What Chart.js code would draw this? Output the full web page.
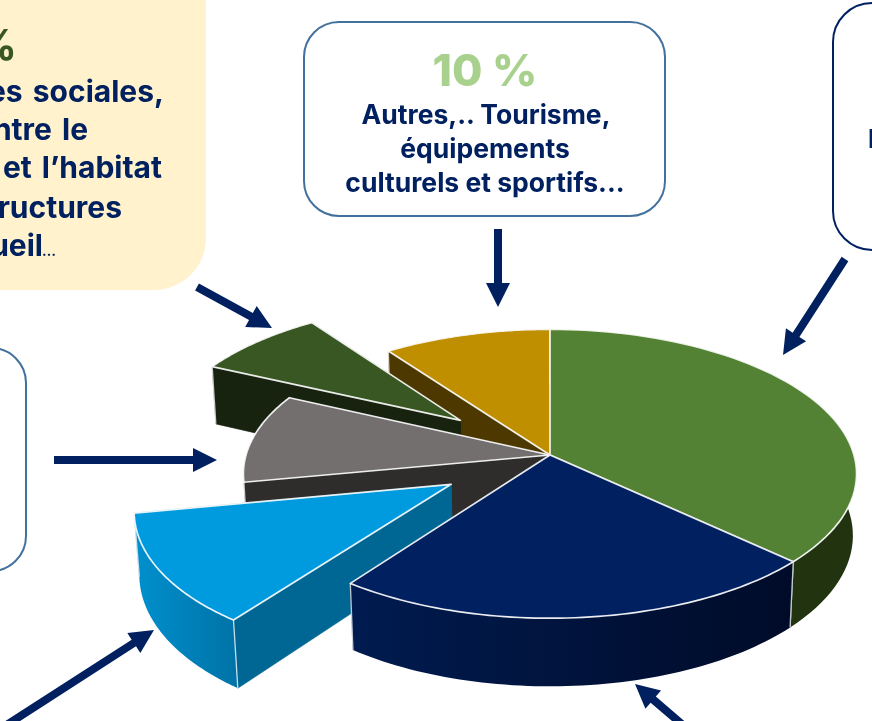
<!DOCTYPE html>
<html lang="fr">
<head>
<meta charset="utf-8">
<title>Répartition</title>
<script src="https://cdn.jsdelivr.net/npm/chart.js@4/dist/chart.umd.min.js"></script>
<style>
html, body { margin: 0; padding: 0; background: #fff; }
#page { position: relative; width: 872px; height: 721px; overflow: hidden; font-family: Inter, sans-serif; font-weight: 700; color: #002060; }
#chart { position: absolute; left: 0; top: 0; }
#arrows { position: absolute; left: 0; top: 0; }
.box { position: absolute; box-sizing: border-box; }
.txt { position: absolute; white-space: nowrap; line-height: 1; }
</style>
</head>
<body>
<div id="page">
  <canvas id="chart" width="872" height="721"></canvas>
  <div class="box" style="left:-200px;top:-60px;width:406px;height:350px;background:#fff2cc;border-radius:52px"></div>
  <div class="box" style="left:303px;top:21px;width:363px;height:196px;border:2.5px solid #41719c;border-radius:36px"></div>
  <div class="box" style="left:-200px;top:347px;width:227px;height:225px;border:2.5px solid #41719c;border-radius:36px"></div>
  <div class="box" style="left:832px;top:2px;width:200px;height:249px;border:2.5px solid #002060;border-radius:40px"></div>
  <div id="texts"></div>
  <svg id="arrows" width="872" height="721"></svg>
</div>
<script>
// slices, clockwise from 12 o'clock
const categories = ['Grand vert', 'Bleu marine', 'Bleu clair', 'Gris', 'Vert foncé', 'Or'];
const shares = [37, 23, 12, 10, 8, 10];
const explode = [0, 0, 0.375, 0, 0.395, 0];

const topColors = ['#548235', '#002060', '#009ade', '#736f6e', '#385723', '#bf8f00'];
const cutColors = ['#22340f', '#00123c', '#006794', '#2f2c2c', '#17230f', '#4d3800'];
const wallFrom = ['#22340f', '#001b50', '#0090ce', '#2f2c2c', '#17230f', '#4d3800'];
const wallTo = ['#22340f', '#000b28', '#0074a8', '#2f2c2c', '#17230f', '#4d3800'];
const drawOrder = [5, 4, 3, 0, 2, 1];

// text lines: string, right or left x, baseline, size, colour
const textLines = [
  ['%', 17, 60, 42, '#385723', 'r'],
  ['es sociales,', 164, 102, 30, '#002060', 'r'],
  ['ntre le', 88, 140, 30, '#002060', 'r'],
  ['et l’habitat', 162, 178, 30, '#002060', 'r'],
  ['ructures', 122, 218, 30, '#002060', 'r'],
  ['ueil', 43, 256, 30, '#002060', 'r'],
  ['…', 56, 256, 14, '#002060', 'r'],
  ['10 %', 485, 86, 44, '#a9d18e', 'c'],
  ['Autres,.. Tourisme,', 486, 124, 26.5, '#002060', 'c'],
  ['équipements', 485, 158, 26.5, '#002060', 'c'],
  ['culturels et sportifs...', 485, 192, 26.5, '#002060', 'c'],
  ['l', 868, 148, 26, '#002060', 'l']
];

const texts = document.getElementById('texts');
textLines.forEach(([s, x, base, size, color, align]) => {
  const d = document.createElement('div');
  d.className = 'txt';
  d.textContent = s;
  d.style.fontSize = size + 'px';
  d.style.color = color;
  d.style.top = (base - size * 0.86) + 'px';
  if (size === 30) d.style.wordSpacing = '3px';
  if (size === 44) d.style.fontWeight = 800;
  if (align === 'r') d.style.right = (872 - x) + 'px';
  if (align === 'l') d.style.left = x + 'px';
  if (align === 'c') { d.style.left = x + 'px'; d.style.transform = 'translateX(-50%)'; }
  texts.appendChild(d);
});

// arrows: x1, y1, tip x, tip y
const arrowList = [
  [197, 287, 272, 328],
  [498, 229, 498, 307],
  [845, 259, 783, 355],
  [54, 460, 217, 460],
  [5, 726, 154, 630],
  [684, 726, 635, 684]
];
const svg = document.getElementById('arrows');
arrowList.forEach(([x1, y1, x2, y2]) => {
  const len = Math.hypot(x2 - x1, y2 - y1);
  const ux = (x2 - x1) / len, uy = (y2 - y1) / len;
  const nx = -uy, ny = ux;
  const bx = x2 - ux * 24, by = y2 - uy * 24;
  const pts = [
    [x1 + nx * 4, y1 + ny * 4], [bx + nx * 4, by + ny * 4], [bx + nx * 12, by + ny * 12], [x2, y2],
    [bx - nx * 12, by - ny * 12], [bx - nx * 4, by - ny * 4], [x1 - nx * 4, y1 - ny * 4]
  ];
  const p = document.createElementNS('http://www.w3.org/2000/svg', 'polygon');
  p.setAttribute('points', pts.map(q => q.join(',')).join(' '));
  p.setAttribute('fill', '#002060');
  svg.appendChild(p);
});

// perspective view of the pie plane, u and v in radii, z 0 top / 1 bottom
const project = (u, v, z) => {
  const w = 1 - 0.13 * v + 0.012 * z;
  return [550 + 304 * u / w, 455 + (142 * v + 62 * z) / w];
};

const trace = (ctx, pts) => {
  ctx.beginPath();
  pts.forEach((p, i) => i ? ctx.lineTo(p[0], p[1]) : ctx.moveTo(p[0], p[1]));
  ctx.closePath();
};

const pie3d = {
  id: 'pie3d',
  beforeDatasetsDraw(chart) {
    const ctx = chart.ctx;
    const arcs = chart.getDatasetMeta(0).data;
    ctx.save();
    ctx.lineJoin = 'round';
    drawOrder.forEach(i => {
      const el = arcs[i];
      const off = el.options.offset / el.outerRadius;
      const mid = (el.startAngle + el.endAngle) / 2;
      const du = Math.cos(mid) * off, dv = Math.sin(mid) * off;
      const rim = [];
      for (let k = 0; k <= 64; k++) {
        const a = el.startAngle + (el.endAngle - el.startAngle) * k / 64;
        rim.push([du + Math.cos(a), dv + Math.sin(a)]);
      }
      const tipTop = project(du, dv, 0), tipLow = project(du, dv, 1);
      const rimTop = rim.map(r => project(r[0], r[1], 0));
      const rimLow = rim.map(r => project(r[0], r[1], 1));

      // cut faces
      ctx.fillStyle = cutColors[i];
      ctx.strokeStyle = cutColors[i];
      ctx.lineWidth = 0.6;
      [0, 64].forEach(k => {
        trace(ctx, [tipTop, rimTop[k], rimLow[k], tipLow]);
        ctx.fill();
        ctx.stroke();
      });

      // outer wall
      const xs = rimTop.map(p => p[0]);
      const grad = ctx.createLinearGradient(Math.min(...xs), 0, Math.max(...xs), 0);
      grad.addColorStop(0, wallFrom[i]);
      grad.addColorStop(1, wallTo[i]);
      ctx.fillStyle = grad;
      trace(ctx, rimTop.concat(rimLow.slice().reverse()));
      ctx.fill();

      // light seams at the corners
      ctx.strokeStyle = 'rgba(255,255,255,0.75)';
      ctx.lineWidth = 1.3;
      [0, 64].forEach(k => {
        ctx.beginPath();
        ctx.moveTo(rimTop[k][0], rimTop[k][1]);
        ctx.lineTo(rimLow[k][0], rimLow[k][1]);
        ctx.stroke();
      });

      // top face
      ctx.fillStyle = el.options.backgroundColor;
      trace(ctx, [tipTop].concat(rimTop));
      ctx.fill();
      ctx.strokeStyle = 'rgba(255,255,255,0.9)';
      ctx.lineWidth = 1.7;
      ctx.stroke();
    });
    ctx.restore();
    return false;
  }
};

new Chart(document.getElementById('chart'), {
  type: 'pie',
  data: {
    labels: categories,
    datasets: [{
      data: shares,
      backgroundColor: topColors,
      borderWidth: 0,
      offset: explode.map(e => e * 250)
    }]
  },
  options: {
    responsive: false,
    animation: false,
    radius: 250,
    layout: { padding: 0 },
    plugins: { legend: { display: false }, tooltip: { enabled: false } }
  },
  plugins: [pie3d]
});
</script>
</body>
</html>
